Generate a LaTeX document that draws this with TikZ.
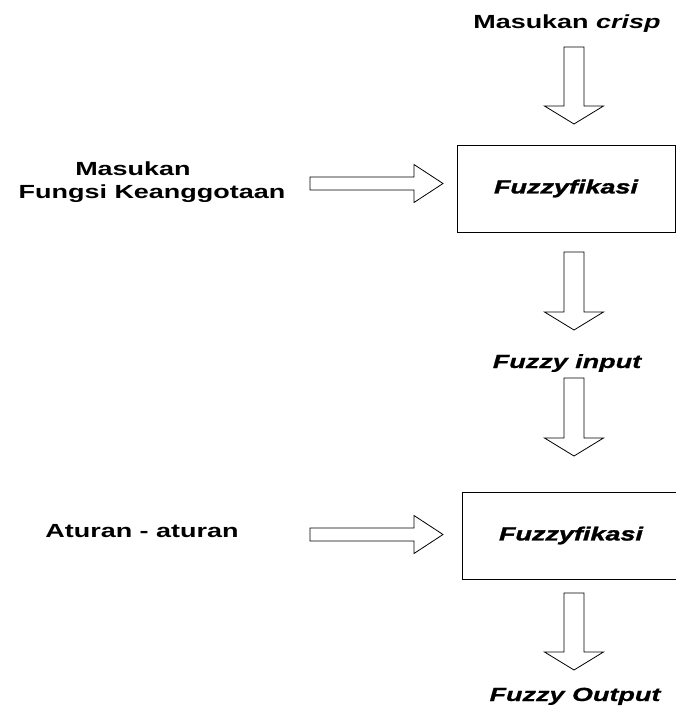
\documentclass[tikz,border=0pt]{standalone}
\usepackage{fontspec}
\setmainfont{Liberation Sans}[FakeStretch=1.42]
% heavier face for the italic stage and signal names
\newfontfamily\heavyface{Liberation Sans}[FakeStretch=1.42, FakeBold=1.6]
\newfontfamily\semiheavyface{Liberation Sans}[FakeStretch=1.42, FakeBold=0.6]
\usetikzlibrary{calc}

% hollow block arrow pointing down, from top of shaft (#1) to tip (#2)
\newcommand\blockdown[2]{%
  \draw[blk] let \p1=(#1), \p2=(#2) in
    (\x1-10pt,\y1) -- (\x1+10pt,\y1) -- (\x1+10pt,\y2+18pt)
    -- (\x1+29.5pt,\y2+18pt) -- (\x2,\y2) -- (\x1-29.5pt,\y2+18pt)
    -- (\x1-10pt,\y2+18pt) -- cycle;}
% hollow block arrow pointing right, from tail (#1) to tip (#2)
\newcommand\blockright[2]{%
  \draw[blk] let \p1=(#1), \p2=(#2) in
    (\x1,\y1-6.5pt) -- (\x2-29pt,\y1-6.5pt) -- (\x2-29pt,\y1-19pt)
    -- (\x2,\y2) -- (\x2-29pt,\y1+19pt) -- (\x2-29pt,\y1+6.5pt)
    -- (\x1,\y1+6.5pt) -- cycle;}

\begin{document}
\begin{tikzpicture}[x=1pt,y=-1pt,
  lbl/.style={font=\fontsize{19}{23}\selectfont\bfseries, inner sep=0pt, anchor=base},
  lblit/.style={lbl, font=\fontsize{19}{23}\selectfont\semiheavyface\bfseries\itshape},
  blk/.style={draw=black, line width=0.8pt, fill=white, line join=miter},
  stage/.style={draw=black, line width=0.8pt, inner sep=0pt,
    minimum width=218pt, minimum height=87pt,
    font=\fontsize{19}{23}\selectfont\heavyface\bfseries\itshape}
]
\useasboundingbox (0,0) rectangle (676,707);

% processing blocks
\node[stage] (fz1) at (566,188.5) {Fuzzyfikasi};
\node[stage] (fz2) at (571,535.5) {Fuzzyfikasi};

% labels
\node[lbl] (crisp) at (567,28) {Masukan \textit{crisp}};
\node[lbl] (mf1) at (133,175) {Masukan};
\node[lbl] (mf2) at (152,198) {Fungsi Keanggotaan};
\node[lblit] (fin) at (567,368) {Fuzzy input};
\node[lbl] (rules) at (142,537) {Aturan - aturan};
\node[lblit] (fout) at (575,701) {Fuzzy Output};

% arrow end points
\coordinate (d1a) at (574,47);  \coordinate (d1b) at (574,124);
\coordinate (d2a) at (574,252); \coordinate (d2b) at (574,330);
\coordinate (d3a) at (574,378); \coordinate (d3b) at (574,456);
\coordinate (d4a) at (574,593); \coordinate (d4b) at (574,670);
\coordinate (h1a) at (310,183.5); \coordinate (h1b) at (443,183.5);
\coordinate (h2a) at (310,534.5); \coordinate (h2b) at (443,534.5);

% flow arrows
\blockdown{d1a}{d1b}
\blockdown{d2a}{d2b}
\blockdown{d3a}{d3b}
\blockdown{d4a}{d4b}
\blockright{h1a}{h1b}
\blockright{h2a}{h2b}
\end{tikzpicture}
\end{document}
